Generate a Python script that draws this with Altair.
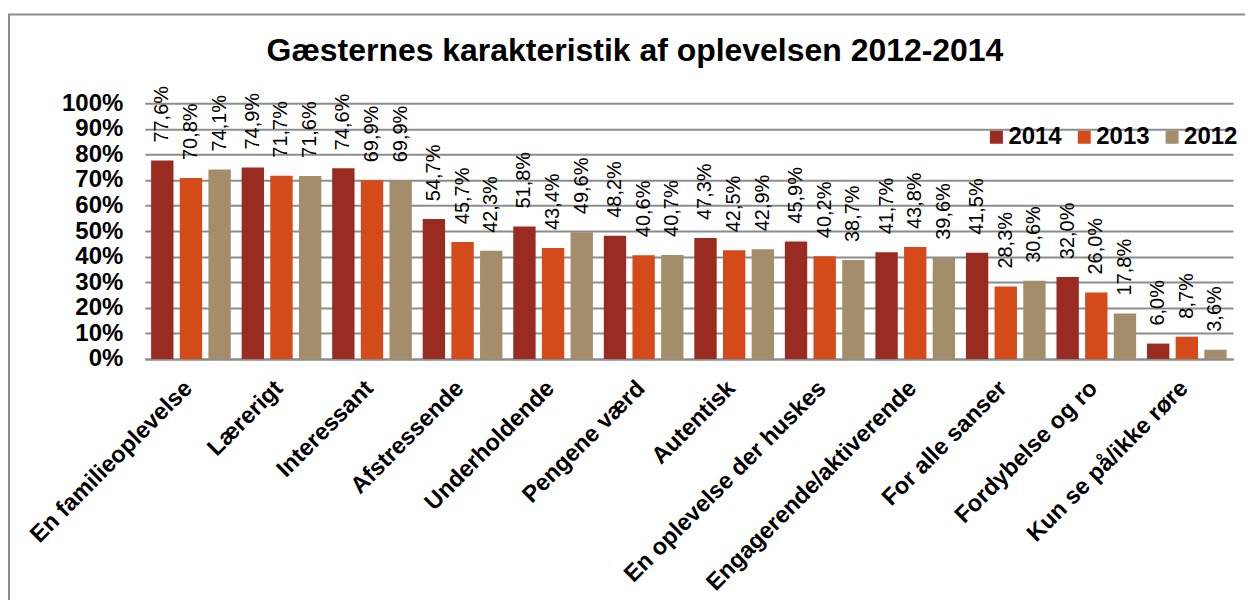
import altair as alt
import pandas as pd

categories = ["En familieoplevelse", "Lærerigt", "Interessant", "Afstressende",
              "Underholdende", "Pengene værd", "Autentisk", "En oplevelse der huskes",
              "Engagerende/aktiverende", "For alle sanser", "Fordybelse og ro",
              "Kun se på/ikke røre"]
v2014 = [77.6, 74.9, 74.6, 54.7, 51.8, 48.2, 47.3, 45.9, 41.7, 41.5, 32.0, 6.0]
v2013 = [70.8, 71.7, 69.9, 45.7, 43.4, 40.6, 42.5, 40.2, 43.8, 28.3, 26.0, 8.7]
v2012 = [74.1, 71.6, 69.9, 42.3, 49.6, 40.7, 42.9, 38.7, 39.6, 30.6, 17.8, 3.6]
years = ["2014", "2013", "2012"]
colors = ["#992B20", "#D44A18", "#A38D6B"]
y_ticks = list(range(0, 101, 10))
TITLE = "Gæsternes karakteristik af oplevelsen 2012-2014"

rows = []
for yr, vals in zip(years, [v2014, v2013, v2012]):
    for c, v in zip(categories, vals):
        rows.append({"kategori": c, "aar": yr, "andel": v,
                     "label": f"{v:.1f}".replace(".", ",") + "%"})
df = pd.DataFrame(rows)

FONT = "Liberation Sans"

x = alt.X("kategori:N", sort=categories, title=None,
          scale=alt.Scale(paddingInner=0.12, paddingOuter=0.07),
          axis=alt.Axis(labelAngle=-45, labelFont=FONT, labelFontSize=23.5,
                        labelFontWeight="bold", labelColor="black", labelPadding=17,
                        labelOffset=-11, ticks=False, domainColor="#8c8c8c",
                        domainWidth=2, labelLimit=400))
xo = alt.XOffset("aar:N", sort=years, scale=alt.Scale(paddingInner=0.22))
y = alt.Y("andel:Q", scale=alt.Scale(domain=[0, 100]), title=None,
          axis=alt.Axis(values=y_ticks, labelExpr="datum.value + '%'",
                        labelFont=FONT, labelFontSize=24, labelFontWeight="bold",
                        labelColor="black", labelPadding=22, ticks=False,
                        domain=False, gridColor="#8c8c8c", gridWidth=2))
color = alt.Color("aar:N", sort=years,
                  scale=alt.Scale(domain=years, range=colors),
                  legend=alt.Legend(title=None, orient="none", legendX=841, legendY=22,
                                    direction="horizontal", symbolType="square",
                                    symbolSize=169, symbolStrokeWidth=0,
                                    labelFont=FONT, labelFontSize=24,
                                    labelFontWeight="bold", labelColor="black",
                                    columnPadding=10, labelOffset=0, padding=0))

base = alt.Chart(df).encode(x=x, xOffset=xo, y=y)
bars = base.mark_bar().encode(color=color)
labels = base.mark_text(angle=270, align="left", baseline="middle", dx=18,
                        font=FONT, fontSize=20, color="black").encode(text="label:N")

frame = alt.Chart(pd.DataFrame({"f": [0]})).mark_rect(
    fillOpacity=0, stroke="#8c8c8c", strokeWidth=2
).encode(x=alt.value(-136), x2=alt.value(1130), y=alt.value(-89), y2=alt.value(530))

chart = alt.layer(frame, bars, labels).properties(
    width=1090, height=256,
    autosize=alt.AutoSizeParams(type="none"),
    padding={"left": 137, "top": 95, "right": 12, "bottom": 241},
    title=alt.Title(TITLE, font=FONT, fontSize=32, fontWeight="bold", color="black",
                    anchor="middle", frame="group", offset=-55, dx=-54),
).configure_view(stroke=None)

chart.save("out.html", embed_options={"renderer": "svg", "actions": False})
